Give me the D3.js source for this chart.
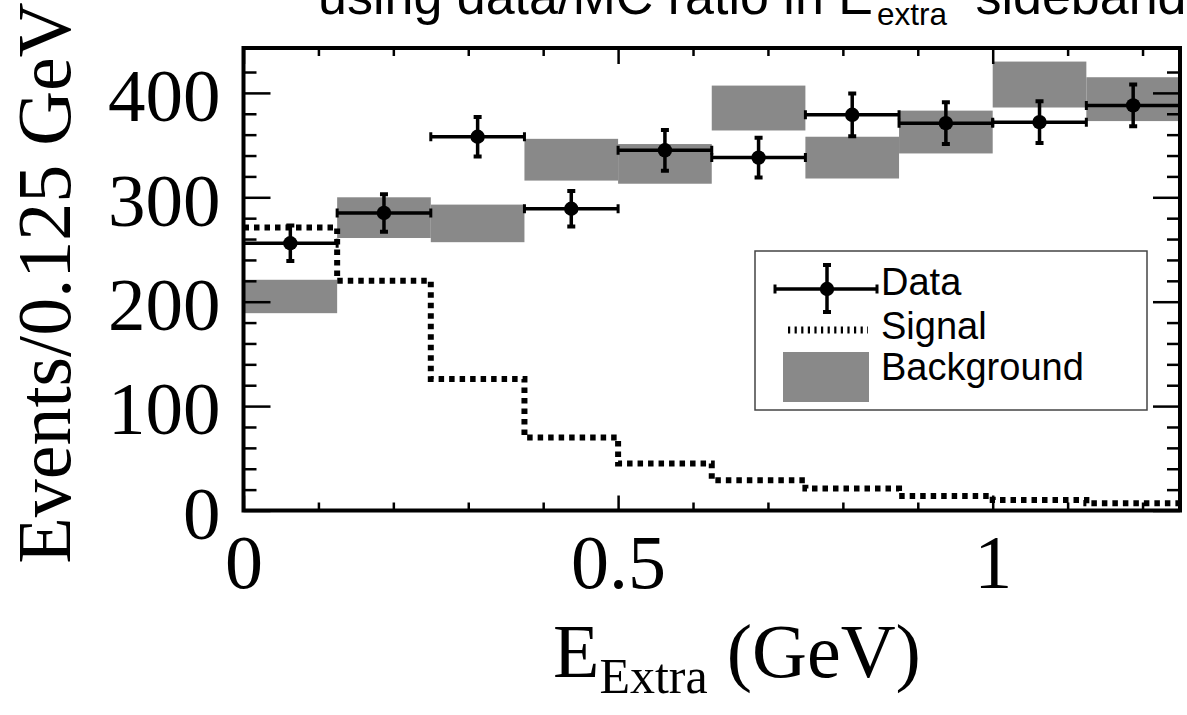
<!DOCTYPE html>
<html lang="en">
<head>
  <meta charset="UTF-8">
  <title>E_Extra sideband</title>
  <script src="https://d3js.org/d3.v7.min.js"></script>
  <style>
    html, body {
      margin: 0;
      padding: 0;
      background: #fff;
    }
    svg {
      display: block;
    }
    .serif {
      font-family: "Liberation Serif", "Times New Roman", serif;
    }
    .sans {
      font-family: "Liberation Sans", Arial, sans-serif;
    }
  </style>
</head>
<body>
  <div id="chart"></div>

  <script>
    // bins of 0.125 GeV
    const binLo = [0, 0.125, 0.25, 0.375, 0.5, 0.625, 0.75, 0.875, 1.0, 1.125];
    const binHi = [0.125, 0.25, 0.375, 0.5, 0.625, 0.75, 0.875, 1.0, 1.125, 1.25];
    const binMid = [0.0625, 0.1875, 0.3125, 0.4375, 0.5625, 0.6875, 0.8125, 0.9375, 1.0625, 1.1875];

    const dataValues = [256, 285, 358, 289, 345, 338, 379, 371, 372, 388];
    const dataErrors = [17, 18, 19, 17, 19.5, 19, 20.5, 20, 20, 20];
    const signalValues = [271, 220, 126, 70, 45, 29, 21, 14, 10, 7];
    const bkgLow = [189, 261, 257, 316, 313, 364, 318, 342, 386, 373];
    const bkgHigh = [221, 300, 293, 356, 351, 407, 358, 383, 430, 415];

    const xMajorTicks = [0, 0.5, 1];
    const xMinorTicks = [0.1, 0.2, 0.3, 0.4, 0.6, 0.7, 0.8, 0.9, 1.1, 1.2];
    const yMajorTicks = [0, 100, 200, 300, 400];
    const yMinorTicks = [20, 40, 60, 80, 120, 140, 160, 180, 220, 240, 260, 280, 320, 340, 360, 380, 420];

    const width = 1187;
    const height = 715;
    const plotL = 243.5, plotR = 1180, plotT = 48, plotB = 510.5;
    const bkgColor = "#898989";

    const svg = d3.select("#chart")
      .append("svg")
      .attr("width", width)
      .attr("height", height);

    svg.append("rect")
      .attr("width", width)
      .attr("height", height)
      .attr("fill", "#fff");

    // Scales
    const x = d3.scaleLinear().domain([0, 1.25]).range([plotL, plotR]);
    const y = d3.scaleLinear().domain([0, 443]).range([plotB, plotT]);

    svg.append("clipPath")
      .attr("id", "plot-clip")
      .append("rect")
      .attr("x", plotL)
      .attr("y", plotT)
      .attr("width", plotR - plotL)
      .attr("height", plotB - plotT);

    const plot = svg.append("g").attr("clip-path", "url(#plot-clip)");

    // Background bands
    plot.selectAll(".bkg")
      .data(binLo)
      .enter()
      .append("rect")
      .attr("class", "bkg")
      .attr("x", (d, i) => x(binLo[i]))
      .attr("width", (d, i) => x(binHi[i]) - x(binLo[i]))
      .attr("y", (d, i) => y(bkgHigh[i]))
      .attr("height", (d, i) => y(bkgLow[i]) - y(bkgHigh[i]))
      .attr("fill", bkgColor);

    // Signal step histogram
    const signalPts = binLo.map((d, i) => [d, signalValues[i]]);
    signalPts.push([binHi[binHi.length - 1], signalValues[signalValues.length - 1]]);

    const stepLine = d3.line()
      .x(d => x(d[0]))
      .y(d => y(d[1]))
      .curve(d3.curveStepAfter);

    plot.append("path")
      .attr("d", stepLine(signalPts))
      .attr("fill", "none")
      .attr("stroke", "#000")
      .attr("stroke-width", 6)
      .attr("stroke-dasharray", "5.5,5");

    // Data points with error bars
    function errorPoint(g, cx, cy, x0, x1, y0, y1) {
      g.append("line")
        .attr("x1", x0).attr("x2", x1).attr("y1", cy).attr("y2", cy)
        .attr("stroke", "#000").attr("stroke-width", 3.5);
      g.append("line")
        .attr("x1", cx).attr("x2", cx).attr("y1", y0).attr("y2", y1)
        .attr("stroke", "#000").attr("stroke-width", 3.5);
      [x0, x1].forEach(xx => {
        g.append("line")
          .attr("x1", xx).attr("x2", xx).attr("y1", cy - 4.5).attr("y2", cy + 4.5)
          .attr("stroke", "#000").attr("stroke-width", 3);
      });
      [y0, y1].forEach(yy => {
        g.append("line")
          .attr("x1", cx - 4).attr("x2", cx + 4).attr("y1", yy).attr("y2", yy)
          .attr("stroke", "#000").attr("stroke-width", 4);
      });
      g.append("circle")
        .attr("cx", cx).attr("cy", cy).attr("r", 7.2)
        .attr("fill", "#000");
    }

    const dataG = plot.append("g");
    dataValues.forEach((v, i) => {
      errorPoint(dataG.append("g"),
        x(binMid[i]), y(v),
        x(binLo[i]), x(binHi[i]),
        y(v + dataErrors[i]), y(v - dataErrors[i]));
    });

    // Axes (ticks inside, on all four sides)
    function styleAxis(g) {
      g.select(".domain").remove();
      g.selectAll(".tick line").attr("stroke", "#000").attr("stroke-width", 2.5);
    }

    svg.append("g")
      .attr("transform", `translate(${plotL},0)`)
      .call(d3.axisLeft(y).tickValues(yMinorTicks).tickSize(-13).tickFormat(""))
      .call(styleAxis);

    const yAxis = svg.append("g")
      .attr("transform", `translate(${plotL},0)`)
      .call(d3.axisLeft(y).tickValues(yMajorTicks).tickSize(-27).tickPadding(23))
      .call(styleAxis);
    yAxis.selectAll("text")
      .attr("class", "serif")
      .attr("font-size", 75)
      .attr("fill", "#000")
      .attr("dy", "0.37em");

    svg.append("g")
      .attr("transform", `translate(${plotR},0)`)
      .call(d3.axisRight(y).tickValues(yMinorTicks).tickSize(-13).tickFormat(""))
      .call(styleAxis);
    svg.append("g")
      .attr("transform", `translate(${plotR},0)`)
      .call(d3.axisRight(y).tickValues(yMajorTicks).tickSize(-27).tickFormat(""))
      .call(styleAxis);

    svg.append("g")
      .attr("transform", `translate(0,${plotB})`)
      .call(d3.axisBottom(x).tickValues(xMinorTicks).tickSize(-8).tickFormat(""))
      .call(styleAxis);

    const xAxis = svg.append("g")
      .attr("transform", `translate(0,${plotB})`)
      .call(d3.axisBottom(x).tickValues(xMajorTicks).tickSize(-15).tickPadding(24).tickFormat(d3.format("")))
      .call(styleAxis);
    xAxis.selectAll("text")
      .attr("class", "serif")
      .attr("font-size", 76)
      .attr("fill", "#000");

    svg.append("g")
      .attr("transform", `translate(0,${plotT})`)
      .call(d3.axisTop(x).tickValues(xMinorTicks).tickSize(-8).tickFormat(""))
      .call(styleAxis);
    svg.append("g")
      .attr("transform", `translate(0,${plotT})`)
      .call(d3.axisTop(x).tickValues(xMajorTicks).tickSize(-16).tickFormat(""))
      .call(styleAxis);

    // Frame
    svg.append("rect")
      .attr("x", plotL)
      .attr("y", plotT)
      .attr("width", plotR - plotL)
      .attr("height", plotB - plotT)
      .attr("fill", "none")
      .attr("stroke", "#000")
      .attr("stroke-width", 4);

    // Axis titles
    const xTitle = svg.append("text")
      .attr("class", "serif")
      .attr("x", 553)
      .attr("y", 677)
      .attr("font-size", 76)
      .attr("fill", "#000");
    xTitle.append("tspan").text("E");
    xTitle.append("tspan").attr("font-size", 50).attr("dy", 16).text("Extra");
    xTitle.append("tspan").attr("dy", -16).text(" (GeV)");

    svg.append("text")
      .attr("class", "serif")
      .attr("transform", "translate(70,283) rotate(-90)")
      .attr("text-anchor", "middle")
      .attr("font-size", 76)
      .attr("fill", "#000")
      .text("Events/0.125 GeV");

    // Title (cut off at the top edge, as in the original)
    const title = svg.append("text")
      .attr("class", "sans")
      .attr("x", 318)
      .attr("y", 14)
      .attr("font-size", 52)
      .attr("fill", "#000");
    title.append("tspan").text("using data/MC ratio in E");
    title.append("tspan").attr("font-size", 31.5).attr("dx", 4).attr("dy", 11).text("extra");
    title.append("tspan").attr("dx", 14).attr("dy", -11).text(" sideband");

    // Legend
    const legend = svg.append("g").attr("class", "sans");

    legend.append("rect")
      .attr("x", 755)
      .attr("y", 251)
      .attr("width", 392)
      .attr("height", 159)
      .attr("fill", "#fff")
      .attr("stroke", "#444")
      .attr("stroke-width", 1.5);

    errorPoint(legend.append("g"), 827, 289, 775, 877, 265, 312);

    legend.append("line")
      .attr("x1", 788).attr("x2", 868)
      .attr("y1", 330).attr("y2", 330)
      .attr("stroke", "#000")
      .attr("stroke-width", 7)
      .attr("stroke-dasharray", "2.2,4.4");

    legend.append("rect")
      .attr("x", 783)
      .attr("y", 352)
      .attr("width", 86)
      .attr("height", 50)
      .attr("fill", bkgColor);

    const labels = ["Data", "Signal", "Background"];
    const labelY = [295, 339, 380];
    legend.selectAll(".lab")
      .data(labels)
      .enter()
      .append("text")
      .attr("class", "lab")
      .attr("x", 881)
      .attr("y", (d, i) => labelY[i])
      .attr("font-size", 38)
      .attr("fill", "#000")
      .text(d => d);
  </script>
</body>
</html>
